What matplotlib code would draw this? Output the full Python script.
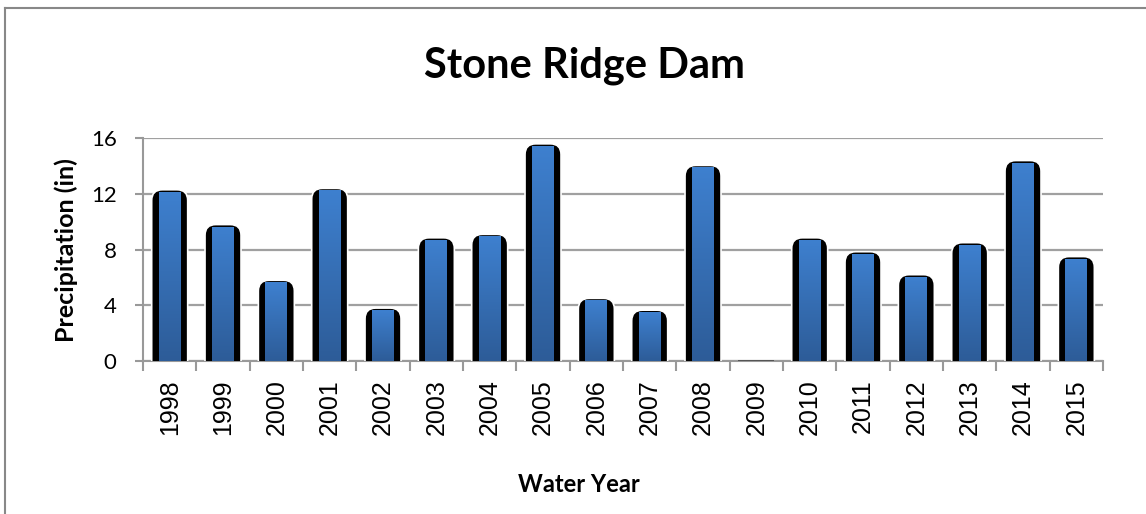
import matplotlib.pyplot as plt
import numpy as np
from matplotlib.patches import FancyBboxPatch

years = ['1998', '1999', '2000', '2001', '2002', '2003', '2004', '2005', '2006',
         '2007', '2008', '2009', '2010', '2011', '2012', '2013', '2014', '2015']
precip = [12.3, 9.8, 5.8, 12.4, 3.8, 8.85, 9.1, 15.6, 4.5,
          3.65, 14.05, 0.05, 8.85, 7.85, 6.2, 8.5, 14.4, 7.5]

TITLE_FONT = ['Lato', 'DejaVu Sans']
TICK_FONT = ['Liberation Sans', 'DejaVu Sans']

fig = plt.figure(figsize=(11.46, 5.14), dpi=100)
ax = fig.add_axes([0.1248, 0.2977, 0.9625 - 0.1248, 0.731 - 0.2977])

x = np.arange(len(years))
ax.set_xlim(-0.5, len(years) - 0.5)
ax.set_ylim(0, 16)

# black rounded "shadow" bars behind the blue ones
shadow = ax.bar(x, precip, width=0.675, color='none')
for p in shadow:
    bx, bw, bh = p.get_x(), p.get_width(), p.get_height()
    if bh < 0.3:
        ax.bar(p.get_x() + bw / 2, bh, width=bw, color='#555555', zorder=3)
        continue
    fb = FancyBboxPatch((bx, -1), bw, bh + 1,
                        boxstyle='round,pad=0,rounding_size=0.2',
                        mutation_aspect=3.8, facecolor='black',
                        edgecolor='white', linewidth=1.2, zorder=3)
    ax.add_patch(fb)

# blue gradient bars
vals_inner = [max(v - 0.15, 0) for v in precip]
inner = ax.bar(x, vals_inner, width=0.41, color='none', zorder=4)
grad = np.linspace(0, 1, 256).reshape(-1, 1)
cmap = plt.matplotlib.colors.LinearSegmentedColormap.from_list(
    'blu', ['#2d5c98', '#3e80cf'])
for p, v in zip(inner, vals_inner):
    if v <= 0:
        continue
    bx, bw = p.get_x(), p.get_width()
    im = ax.imshow(grad, extent=(bx, bx + bw, 0, v), origin='lower',
                   cmap=cmap, aspect='auto', zorder=4)
    im.set_clip_path(p)
ax.set_xlim(-0.5, len(years) - 0.5)
ax.set_ylim(0, 16)

# axes styling
ax.set_axisbelow(True)
ax.yaxis.grid(True, color='#a0a0a0', linewidth=1.6)
for s in ['top', 'right']:
    ax.spines[s].set_visible(False)
for s in ['left', 'bottom']:
    ax.spines[s].set_color('#999999')
    ax.spines[s].set_linewidth(1.5)

ax.set_yticks([0, 4, 8, 12, 16])
ax.tick_params(axis='y', length=6, width=1.5, color='#999999', pad=13,
               labelsize=16)
for lab in ax.get_yticklabels():
    lab.set_family(TITLE_FONT)

ax.set_xticks(x)
ax.set_xticklabels(years, rotation=90, family=TICK_FONT, fontsize=18)
ax.tick_params(axis='x', length=0, pad=13)
ax.set_xticks(np.arange(len(years) + 1) - 0.5, minor=True)
ax.tick_params(axis='x', which='minor', length=7, width=1.5, color='#999999')

ax.set_ylabel('Precipitation (in)', family=TITLE_FONT, fontweight='bold',
              fontsize=18, labelpad=9)

fig.text(0.51, 0.85, 'Stone Ridge Dam', family=TITLE_FONT, fontweight='bold',
         fontsize=30, ha='center', va='baseline')
fig.text(0.505, 0.043, 'Water Year', family=TITLE_FONT, fontweight='bold',
         fontsize=17, ha='center', va='baseline')

# chart frame (top and left edges visible)
fig.add_artist(plt.Line2D([5 / 1146, 5 / 1146], [0, 1 - 8 / 514],
                          color='#888888', linewidth=1.5))
fig.add_artist(plt.Line2D([5 / 1146, 1], [1 - 8 / 514, 1 - 8 / 514],
                          color='#888888', linewidth=1.5))

fig.savefig('out.png', dpi=100)
